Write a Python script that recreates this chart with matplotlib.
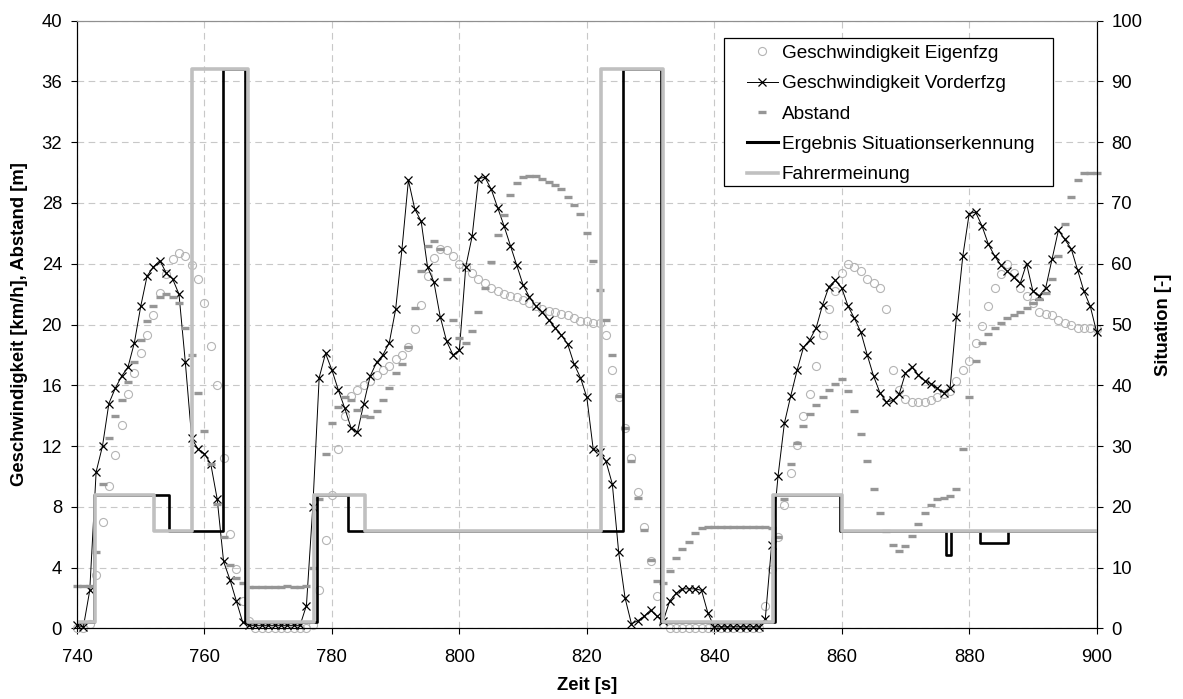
import numpy as np
import matplotlib
matplotlib.use('AGG')
import matplotlib.pyplot as plt
from matplotlib.lines import Line2D
from matplotlib.patches import Rectangle

plt.rcParams['font.family'] = ['Liberation Sans', 'DejaVu Sans']

# Zeitachse [s], 1 s Abtastung
zeit = np.arange(740, 901)

# Geschwindigkeit Eigenfahrzeug [km/h]
v_eigen = [0, 0, 0.3, 3.5, 7.0, 9.4, 11.4, 13.4, 15.4, 16.8,
           18.1, 19.3, 20.6, 22.1, 23.3, 24.3, 24.7, 24.5, 23.9, 23.0,
           21.4, 18.6, 16.0, 11.2, 6.2, 3.9, 1.8, 0.5, 0, 0,
           0, 0, 0, 0, 0, 0, 0, 0.2, 2.5, 5.8,
           8.8, 11.8, 14.0, 15.3, 15.7, 16.0, 16.3, 16.7, 17.0, 17.3,
           17.7, 18.0, 18.5, 19.7, 21.3, 23.2, 24.4, 25.0, 24.9, 24.5,
           24.0, 23.8, 23.4, 23.0, 22.7, 22.4, 22.2, 22.0, 21.9, 21.8,
           21.6, 21.4, 21.2, 21.0, 20.9, 20.8, 20.7, 20.6, 20.4, 20.2,
           20.2, 20.1, 20.1, 19.3, 17.0, 15.2, 13.2, 11.2, 9.0, 6.7,
           4.4, 2.1, 0.3, 0, 0, 0, 0, 0, 0, 0,
           0, 0, 0, 0, 0, 0, 0, 0, 1.5, 3.9,
           6.0, 8.1, 10.2, 12.1, 14.0, 15.4, 17.3, 19.3, 21.0, 22.2,
           23.4, 24.0, 23.8, 23.5, 23.0, 22.7, 22.4, 21.0, 17.0, 15.7,
           15.1, 14.9, 14.9, 14.9, 15.0, 15.2, 15.4, 15.6, 16.3, 17.0,
           17.6, 18.8, 19.9, 21.2, 22.4, 23.3, 24.0, 23.4, 22.4, 21.9,
           21.4, 20.8, 20.7, 20.6, 20.3, 20.1, 20.0, 19.8, 19.8, 19.8,
           19.7]

# Geschwindigkeit Vorderfahrzeug [km/h]
v_vorder = [0.2, 0.1, 2.5, 10.3, 12.0, 14.8, 15.8, 16.6, 17.2, 18.8,
            21.2, 23.2, 23.8, 24.2, 23.4, 23.0, 22.0, 17.5, 12.5, 11.8,
            11.5, 10.8, 8.5, 4.4, 3.2, 1.8, 0.4, 0.2, 0.2, 0.2,
            0.2, 0.2, 0.2, 0.2, 0.2, 0.2, 1.5, 8.0, 16.5, 18.1,
            17.0, 15.7, 14.5, 13.2, 12.9, 14.8, 16.6, 17.5, 18.0, 18.8,
            21.0, 25.0, 29.5, 27.6, 26.8, 23.8, 22.8, 20.5, 18.9, 18.0,
            18.3, 23.8, 25.8, 29.6, 29.7, 28.9, 27.7, 26.5, 25.2, 23.9,
            22.6, 21.8, 21.2, 20.8, 20.3, 19.8, 19.3, 18.7, 17.4, 16.5,
            15.2, 11.8, 11.6, 11.0, 9.5, 5.0, 2.0, 0.3, 0.5, 0.8,
            1.2, 0.8, 0.5, 1.8, 2.3, 2.6, 2.6, 2.6, 2.5, 1.0,
            0.1, 0.1, 0.1, 0.1, 0.1, 0.1, 0.1, 0.1, 0.6, 5.5,
            10.0, 13.5, 15.3, 17.0, 18.5, 19.0, 19.8, 21.3, 22.5, 22.9,
            22.4, 21.2, 20.4, 19.5, 18.0, 16.6, 15.5, 14.9, 15.0, 15.4,
            16.8, 17.2, 16.7, 16.3, 16.1, 15.8, 15.5, 15.8, 20.5, 24.5,
            27.3, 27.4, 26.5, 25.3, 24.5, 23.9, 23.5, 23.1, 22.7, 24.0,
            22.2, 21.9, 22.4, 24.3, 26.2, 25.6, 25.0, 23.6, 22.2, 21.2,
            19.5]

# Abstand [m]
abstand = [2.8, 2.8, 2.8, 5.0, 9.5, 12.5, 14.0, 15.0, 16.2, 17.5,
           19.0, 20.2, 21.2, 21.8, 22.0, 21.8, 21.4, 19.8, 18.0, 15.5,
           13.0, 10.8, 8.2, 6.0, 4.2, 3.3, 3.0, 2.7, 2.7, 2.7,
           2.7, 2.7, 2.7, 2.8, 2.75, 2.7, 2.8, 4.0, 8.5, 11.5,
           13.5, 14.6, 15.2, 15.0, 14.4, 14.0, 13.9, 14.3, 15.0, 15.8,
           16.8, 17.4, 18.5, 21.1, 23.5, 25.2, 25.5, 25.0, 23.0, 20.3,
           19.1, 18.8, 19.6, 20.8, 22.4, 24.1, 25.9, 27.2, 28.5, 29.3,
           29.7, 29.8, 29.8, 29.6, 29.4, 29.2, 28.9, 28.4, 27.9, 27.3,
           26.0, 24.2, 22.3, 20.3, 18.0, 15.3, 13.2, 11.0, 8.6, 6.5,
           4.5, 3.1, 3.0, 3.8, 4.6, 5.2, 5.7, 6.3, 6.6, 6.7,
           6.7, 6.7, 6.7, 6.7, 6.7, 6.7, 6.7, 6.7, 6.7, 6.6,
           6.0, 8.5, 10.8, 12.2, 13.3, 14.1, 14.7, 15.2, 15.7, 16.1,
           16.4, 15.6, 14.3, 12.8, 11.0, 9.2, 7.6, 6.4, 5.5, 5.1,
           5.4, 6.1, 6.9, 7.6, 8.1, 8.5, 8.6, 8.7, 9.2, 11.8,
           15.2, 17.6, 18.8, 19.4, 19.8, 20.1, 20.4, 20.6, 20.8, 21.1,
           21.4, 21.7, 22.1, 23.0, 24.5, 26.6, 28.4, 29.5, 30.0, 30.0,
           30.0]

# Ergebnis Situationserkennung (Stufen)
erg_zeit = [740, 742.7, 754.5, 762.9, 766.4, 777.6, 782.6, 825.6, 831.6,
            849.5, 859.7, 876.3, 877.1, 881.7, 886.1, 900]
erg_wert = [1, 22, 16, 92, 1, 22, 16, 92, 1, 22, 16, 12, 16, 14, 16, 16]

# Fahrermeinung (Stufen)
fm_zeit = [740, 742.9, 752.1, 758.1, 766.9, 777.2, 785.2, 822.2, 832.0,
           849.2, 860.0, 900]
fm_wert = [1, 22, 16, 92, 1, 22, 16, 92, 1, 22, 16, 16]

fig = plt.figure(figsize=(11.83, 6.99), dpi=100)
ax1 = fig.add_axes([0.0651, 0.1011, 0.8619, 0.8693])
ax2 = ax1.twinx()

ax1.plot(zeit, v_eigen, linestyle='none', marker='o', markersize=5.8,
         markerfacecolor='none', markeredgecolor='#b4b4b4', markeredgewidth=0.8,
         clip_on=False, zorder=3)
ax1.plot(zeit, v_vorder, color='black', linewidth=0.7, marker='x',
         markersize=6, markeredgewidth=0.9, clip_on=False, zorder=4)
ax1.plot(zeit, abstand, linestyle='none', marker='_', markersize=5.8,
         markeredgewidth=2.4, color='#969696', clip_on=False, zorder=5)

ax2.plot(erg_zeit, erg_wert, drawstyle='steps-post', color='black', linewidth=1.9)
ax2.plot(fm_zeit, fm_wert, drawstyle='steps-post', color='#c0c0c0', linewidth=2.6)

ax1.set_xlim(740, 900)
ax1.set_ylim(0, 40)
ax2.set_ylim(0, 100)
ax1.set_xticks(range(740, 901, 20))
ax1.set_yticks(range(0, 41, 4))
ax2.set_yticks(range(0, 101, 10))

ax1.grid(True, color='#c8c8c8', linestyle=(0, (6, 4)), linewidth=0.8)
ax1.set_axisbelow(True)

for ax in (ax1, ax2):
    ax.tick_params(direction='out', length=4, width=0.8, labelsize=13.3, colors='black')
    ax.spines['top'].set_color('#909090')
ax1.tick_params(axis='x', pad=11)
ax1.tick_params(axis='y', pad=6.8)
ax2.tick_params(axis='y', pad=6.5)

ax1.set_xlabel('Zeit [s]', fontsize=13.3, fontweight='bold', labelpad=8)
ax1.set_ylabel('Geschwindigkeit [km/h], Abstand [m]', fontsize=13.3,
               fontweight='bold', labelpad=9.5)
ax2.set_ylabel('Situation [-]', fontsize=13.3, fontweight='bold', labelpad=9)

# Legendenrahmen separat (breiter Innenabstand wie im Original)
box = Rectangle((0.6345, 0.728), 0.3225, 0.2435, transform=ax2.transAxes,
                facecolor='white', edgecolor='black', linewidth=0.9, zorder=8)
ax2.add_patch(box)

handles = [
    Line2D([], [], linestyle='none', marker='o', markersize=5.8,
           markerfacecolor='none', markeredgecolor='#b4b4b4', markeredgewidth=0.8),
    Line2D([], [], color='black', linewidth=0.7, marker='x', markersize=6,
           markeredgewidth=0.9),
    Line2D([], [], linestyle='none', marker='_', markersize=5.8,
           markeredgewidth=2.4, color='#969696'),
    Line2D([], [], color='black', linewidth=2.2),
    Line2D([], [], color='#c0c0c0', linewidth=2.6),
]
labels = ['Geschwindigkeit Eigenfzg', 'Geschwindigkeit Vorderfzg', 'Abstand',
          'Ergebnis Situationserkennung', 'Fahrermeinung']
leg = ax2.legend(handles, labels, loc='upper left', bbox_to_anchor=(0.657, 0.9603),
                 borderaxespad=0, borderpad=0, fontsize=13.7, frameon=False,
                 handlelength=1.62, handletextpad=0.22, labelspacing=0.68)
leg.set_zorder(9)

fig.savefig('out.png', dpi=100)
